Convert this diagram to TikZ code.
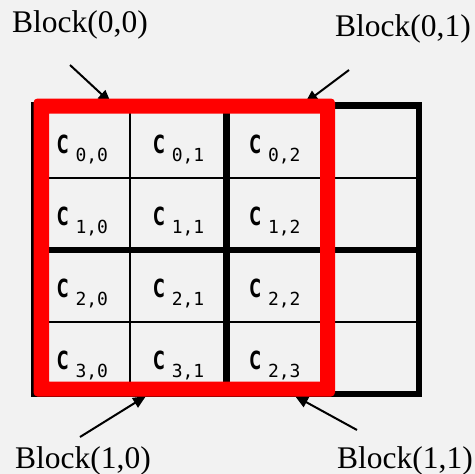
\documentclass[tikz,border=0pt]{standalone}
\usepackage{fontspec}
\setmainfont{Liberation Serif}
\newfontfamily\cellfont{DejaVu Sans}
\newfontfamily\cellmono{DejaVu Sans Mono}
\usetikzlibrary{arrows.meta}
\definecolor{bg}{HTML}{F2F2F2}
\definecolor{hl}{HTML}{FF0000}
\begin{document}
\begin{tikzpicture}[x=1pt,y=-1pt,
  thinline/.style={line width=2.2pt},
  thickline/.style={line width=6.5pt},
  lbl/.style={font=\fontsize{31.5}{34}\selectfont, inner sep=0pt, anchor=base west},
  celltxt/.style={inner sep=0pt, anchor=base west, font=\cellfont\fontsize{25}{26}\selectfont},
  ptr/.style={line width=2pt, -{Triangle[length=13pt,width=11pt]}}]
\fill[bg] (0,0) rectangle (475,474);
\useasboundingbox (0,0) rectangle (475,474);
% labels
\node[lbl] (b00) at (12,32) {Block(0,0)};
\node[lbl] (b01) at (335,36) {Block(0,1)};
\node[lbl] (b10) at (15,468) {Block(1,0)};
\node[lbl] (b11) at (337,468) {Block(1,1)};
% arrow ends
\coordinate (s00) at (70,65);
\coordinate (t00) at (111,103);
\coordinate (s01) at (349,70);
\coordinate (t01) at (305,103);
\coordinate (s10) at (80,437);
\coordinate (t10) at (146,396);
\coordinate (s11) at (357,430);
\coordinate (t11) at (295,396);
\draw[ptr] (s00) -- (t00);
\draw[ptr] (s01) -- (t01);
\draw[ptr] (s10) -- (t10);
\draw[ptr] (s11) -- (t11);
% grid
\foreach \x in {130.25,322.75} \draw[thinline] (\x,105.5) -- (\x,394);
\foreach \y in {177.6,321.9} \draw[thinline] (34,\y) -- (419,\y);
\draw[thickline] (226.5,105.5) -- (226.5,394);
\draw[thickline] (34,249.75) -- (419,249.75);
\draw[thickline] (34,105.5) rectangle (419,394);
% cell texts
\foreach \r/\c/\a/\b in {0/0/0/0,0/1/0/1,0/2/0/2,1/0/1/0,1/1/1/1,1/2/1/2,2/0/2/0,2/1/2/1,2/2/2/2,3/0/3/0,3/1/3/1,3/2/2/3}
  \node[celltxt] (c\r\c) at ({57+96.25*\c},{153+72.1*\r})
    {\scalebox{0.62}[1]{\bfseries C}\hspace{7pt}\raisebox{-8pt}{\cellmono\fontsize{18}{19}\selectfont\a,\b}};
% red block
\fill[hl, even odd rule, rounded corners=4pt] (33.5,98.5) rectangle (335,396.5)
  [sharp corners] (49,113.5) rectangle (320,381.5);
\end{tikzpicture}
\end{document}
